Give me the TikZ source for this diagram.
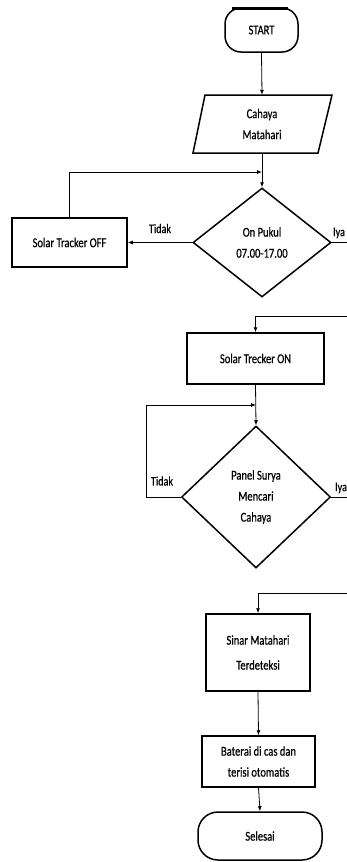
\documentclass[tikz,border=0pt]{standalone}
\usepackage{fontspec}
\setmainfont{Carlito}[FakeStretch=0.78,FakeBold=0.6]
\usetikzlibrary{arrows.meta,shapes.geometric,calc}
\begin{document}
\begin{tikzpicture}[x=1pt,y=-1pt,
  font=\fontsize{13.5}{21}\selectfont,
  box/.style={draw,line width=1.5pt,align=center,inner sep=0pt},
  term/.style={box,rounded corners=16pt},
  dec/.style={draw,diamond,line width=1.5pt,align=center,inner sep=0pt},
  conn/.style={line width=0.8pt,-{Latex[length=5pt,width=4pt]}},
  plain/.style={line width=0.8pt},
  lbl/.style={inner sep=0pt,font=\fontsize{13}{14}\selectfont}]
\useasboundingbox (0,0) rectangle (347,862);
% START
\node[term,minimum width=73pt,minimum height=44pt] (start) at (261.5,30) {START};
\draw[line width=2.5pt] (232,8.5) -- (288,8.5);
% Cahaya Matahari (parallelogram)
\node[align=center,inner sep=0pt,minimum width=110pt,minimum height=58pt] (cm) at (262,124) {Cahaya\\Matahari};
\draw[line width=1.5pt] ($(cm)+(-57,-29)$) -- ($(cm)+(70,-29)$) -- ($(cm)+(56,29)$) -- ($(cm)+(-69,29)$) -- cycle;
% Decision 1
\node[dec,minimum width=138pt,minimum height=109pt] (d1) at (262,242.5) {On Pukul\\07.00-17.00};
% Solar Tracker OFF
\node[box,minimum width=115pt,minimum height=49pt] (off) at (69.5,242.5) {Solar Tracker OFF};
% Solar Trecker ON
\node[box,minimum width=137pt,minimum height=51pt] (on) at (255.5,358.5) {Solar Trecker ON};
% Decision 2
\node[dec,minimum width=149pt,minimum height=142pt] (d2) at (256,497) {Panel Surya\\Mencari\\Cahaya};
% Sinar Matahari
\node[box,minimum width=104pt,minimum height=77pt,font=\fontsize{13.5}{25}\selectfont] (sinar) at (258,652.5) {Sinar Matahari\\Terdeteksi};
% Baterai
\node[box,minimum width=113pt,minimum height=51pt] (bat) at (258.5,761.5) {Baterai di cas dan\\terisi otomatis};
% Selesai
\node[term,rounded corners=20pt,minimum width=124pt,minimum height=48pt] (sel) at (260,836) {Selesai};

% coordinates
\coordinate (j1) at (262,172);
\coordinate (e1) at (347,316);
\coordinate (j2) at (256,405);
\coordinate (x1) at (347,242.5);
\coordinate (x2) at (347,497);
\coordinate (e2) at (347,593);

% connectors
\draw[conn] (start.south) -- (cm.north);
\draw[conn] (cm.south) -- (d1.north);
\draw[conn] (d1.west) -- node[lbl,above=9pt] {Tidak} (off.east);
\draw[conn] (off.north) |- (j1);
\draw[plain] (d1.east) -- (x1);
\node[lbl] (iya1) at (339,233) {Iya};
\draw[conn] (e1) -| (on.north);
\draw[conn] (on.south) -- (d2.north);
\draw[conn] (d2.west) -- ++(-34,0) |- (j2);
\node[lbl] (tidak2) at (162,481) {Tidak};
\draw[plain] (d2.east) -- (x2);
\node[lbl] (iya2) at (341,488) {Iya};
\draw[conn] (e2) -| (sinar.north);
\draw[conn] (sinar.south) -- (bat.north);
\draw[conn] (bat.south) -- (sel.north);
\end{tikzpicture}
\end{document}
